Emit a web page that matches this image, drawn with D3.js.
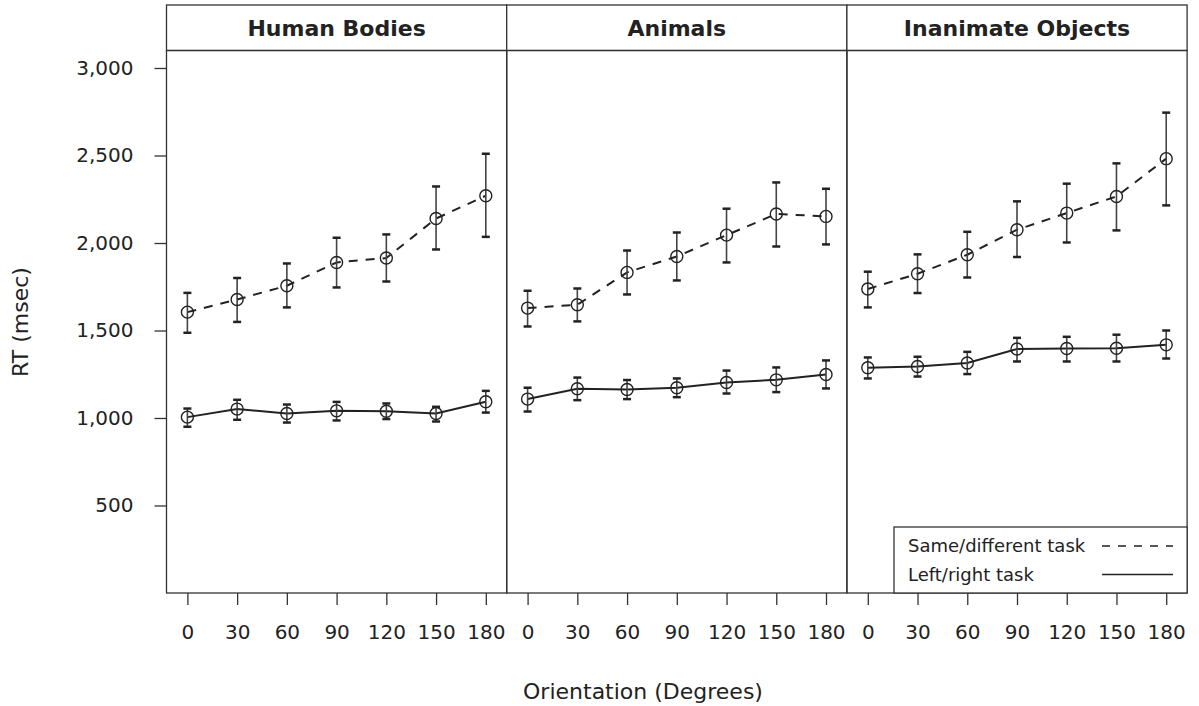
<!DOCTYPE html>
<html>
<head>
<meta charset="utf-8">
<script src="https://cdn.jsdelivr.net/npm/d3@7"></script>
<style>
  body { margin: 0; background: #fff; }
  svg { display: block; font-family: "DejaVu Sans", Verdana, sans-serif; }
</style>
</head>
<body>
<div id="chart"></div>
<script>
// Orientation levels and panel names
const orientations = [0, 30, 60, 90, 120, 150, 180];
const panels = ["Human Bodies", "Animals", "Inanimate Objects"];
const yTicks = [500, 1000, 1500, 2000, 2500, 3000];

// Same/different task (mean, lower, upper) per panel
const sdMean = [
    [1605, 1677, 1756, 1889, 1914, 2140, 2270],
    [1628, 1647, 1832, 1923, 2045, 2166, 2152],
    [1737, 1824, 1933, 2076, 2171, 2266, 2482]
];
const sdLower = [
    [1487, 1549, 1632, 1746, 1780, 1963, 2035],
    [1523, 1552, 1706, 1786, 1889, 1980, 1992],
    [1632, 1714, 1803, 1920, 2003, 2072, 2215]
];
const sdUpper = [
    [1715, 1800, 1883, 2030, 2049, 2323, 2510],
    [1727, 1740, 1957, 2060, 2196, 2346, 2310],
    [1836, 1935, 2064, 2238, 2339, 2455, 2745]
];

// Left/right task (mean, lower, upper) per panel
const lrMean = [
    [1005, 1051, 1026, 1041, 1039, 1026, 1093],
    [1108, 1167, 1163, 1173, 1203, 1218, 1249],
    [1287, 1294, 1314, 1394, 1397, 1399, 1418]
];
const lrLower = [
    [950, 990, 974, 986, 994, 980, 1031],
    [1037, 1102, 1108, 1119, 1140, 1148, 1169],
    [1226, 1237, 1251, 1323, 1323, 1323, 1340]
];
const lrUpper = [
    [1054, 1104, 1077, 1092, 1083, 1064, 1155],
    [1173, 1231, 1217, 1226, 1271, 1289, 1329],
    [1346, 1350, 1378, 1458, 1464, 1476, 1500]
];

const series = [
    { name: "Same/different task", mean: sdMean, lo: sdLower, hi: sdUpper, dash: "9,8" },
    { name: "Left/right task", mean: lrMean, lo: lrLower, hi: lrUpper, dash: null }
];

function drawChart() {
    const W = 1199, H = 706;
    const left = 166.5, panelW = 340.2;
    const stripTop = 5, plotTop = 50.5, plotBottom = 593;
    const ink = "#222";
    const font = "DejaVu Sans, Verdana, sans-serif";

    const svg = d3.select("#chart").append("svg")
        .attr("width", W)
        .attr("height", H);

    const y = d3.scaleLinear().domain([0, 3100]).range([plotBottom, plotTop]);

    const line = d3.line()
        .x(d => d.x)
        .y(d => y(d.v));

    panels.forEach((name, p) => {
        const x0 = left + p * panelW;
        const x = d3.scaleLinear().domain([-12.6, 192.6]).range([x0, x0 + panelW]);
        const g = svg.append("g");

        // strip
        g.append("rect")
            .attr("x", x0).attr("y", stripTop)
            .attr("width", panelW).attr("height", plotTop - stripTop)
            .attr("fill", "#fff").attr("stroke", "#333").attr("stroke-width", 1.3);
        g.append("text")
            .attr("x", x0 + panelW / 2).attr("y", (stripTop + plotTop) / 2)
            .attr("dy", "0.36em")
            .attr("text-anchor", "middle")
            .style("font-size", "22px").style("font-weight", "bold")
            .attr("fill", ink)
            .text(name);

        // panel box
        g.append("rect")
            .attr("x", x0).attr("y", plotTop)
            .attr("width", panelW).attr("height", plotBottom - plotTop)
            .attr("fill", "none").attr("stroke", "#333").attr("stroke-width", 1.3);

        // bottom axis
        const ax = g.append("g")
            .attr("transform", `translate(0,${plotBottom})`)
            .call(d3.axisBottom(x).tickValues(orientations).tickSize(12).tickPadding(20).tickSizeOuter(0))
            .attr("font-family", font)
            .attr("font-size", 20);
        ax.select(".domain").remove();
        ax.selectAll("line").attr("stroke", "#333").attr("stroke-width", 1.3);
        ax.selectAll("text").attr("fill", ink);

        // series
        series.forEach(s => {
            const pts = orientations.map((o, i) => ({
                x: x(o), v: s.mean[p][i], lo: s.lo[p][i], hi: s.hi[p][i]
            }));

            g.append("path")
                .datum(pts)
                .attr("fill", "none")
                .attr("stroke", ink)
                .attr("stroke-width", 2)
                .attr("stroke-dasharray", s.dash)
                .attr("d", line);

            const eb = g.append("g").selectAll("g")
                .data(pts).enter().append("g");
            eb.append("line")
                .attr("x1", d => d.x).attr("x2", d => d.x)
                .attr("y1", d => y(d.lo)).attr("y2", d => y(d.hi))
                .attr("stroke", "#444").attr("stroke-width", 1.6);
            eb.append("line")
                .attr("x1", d => d.x - 4).attr("x2", d => d.x + 4)
                .attr("y1", d => y(d.hi)).attr("y2", d => y(d.hi))
                .attr("stroke", ink).attr("stroke-width", 2.5);
            eb.append("line")
                .attr("x1", d => d.x - 4).attr("x2", d => d.x + 4)
                .attr("y1", d => y(d.lo)).attr("y2", d => y(d.lo))
                .attr("stroke", ink).attr("stroke-width", 2.5);
            eb.append("circle")
                .attr("cx", d => d.x).attr("cy", d => y(d.v))
                .attr("r", 6)
                .attr("fill", "none")
                .attr("stroke", ink).attr("stroke-width", 1.4);
        });
    });

    // left axis
    const ay = svg.append("g")
        .attr("transform", `translate(${left},0)`)
        .call(d3.axisLeft(y).tickValues(yTicks).tickSize(12).tickPadding(21)
            .tickFormat(d3.format(",")).tickSizeOuter(0))
        .attr("font-family", font)
        .attr("font-size", 20);
    ay.select(".domain").remove();
    ay.selectAll("line").attr("stroke", "#333").attr("stroke-width", 1.3);
    ay.selectAll("text").attr("fill", ink);

    // axis titles
    svg.append("text")
        .attr("x", 643).attr("y", 691)
        .attr("dy", "0.36em")
        .attr("text-anchor", "middle")
        .style("font-size", "22px").attr("fill", ink)
        .text("Orientation (Degrees)");
    svg.append("text")
        .attr("transform", "translate(20,322) rotate(-90)")
        .attr("dy", "0.36em")
        .attr("text-anchor", "middle")
        .style("font-size", "22px").attr("fill", ink)
        .text("RT (msec)");

    // legend
    const lx = 894, ly = 527, lw = left + panelW * 3 - lx, lh = plotBottom - ly;
    const legend = svg.append("g");
    legend.append("rect")
        .attr("x", lx).attr("y", ly).attr("width", lw).attr("height", lh)
        .attr("fill", "#fff").attr("stroke", "#333").attr("stroke-width", 1.3);
    series.forEach((s, i) => {
        const yy = ly + 19 + i * 28.5;
        legend.append("text")
            .attr("x", lx + 14).attr("y", yy)
            .attr("dy", "0.36em")
            .style("font-size", "18px").attr("fill", ink)
            .text(s.name);
        legend.append("line")
            .attr("x1", 1102).attr("x2", 1173)
            .attr("y1", yy).attr("y2", yy)
            .attr("stroke", ink).attr("stroke-width", 1.6)
            .attr("stroke-dasharray", s.dash ? "8,8" : null);
    });
}

drawChart();
</script>
</body>
</html>
